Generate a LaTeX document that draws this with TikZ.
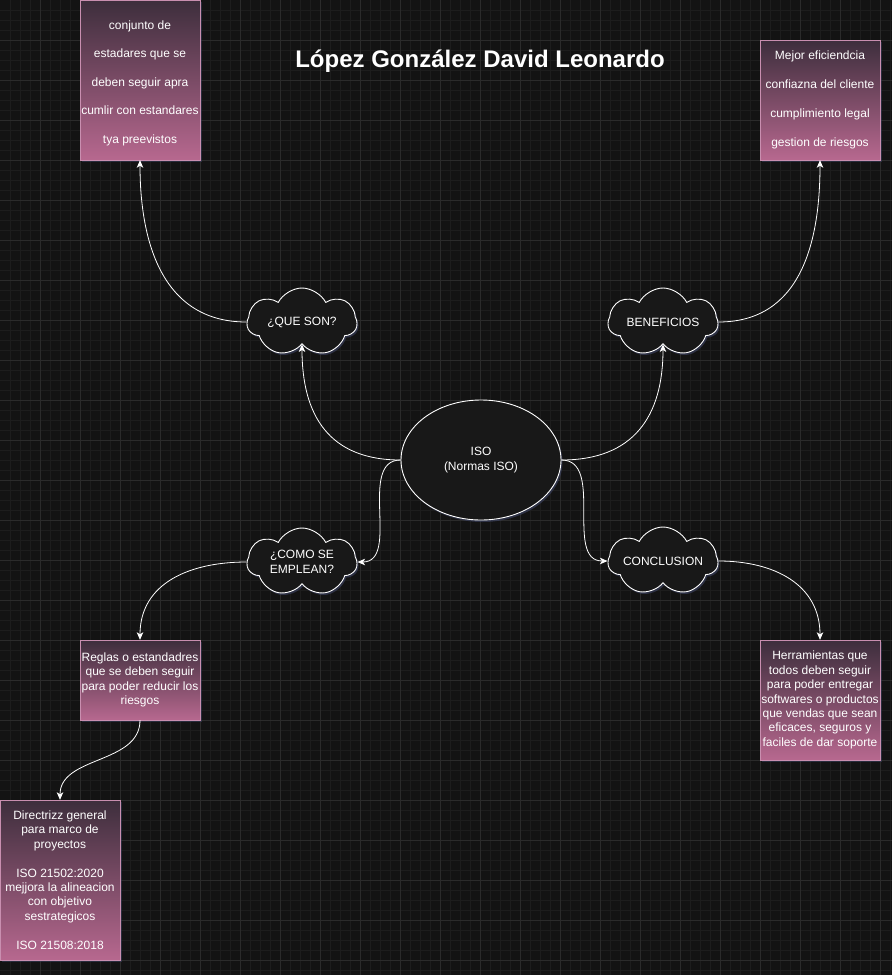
\documentclass[tikz,border=0pt]{standalone}
\usepackage{fontspec}
\setmainfont{Liberation Sans}
\usetikzlibrary{shapes,arrows.meta,shadows}
\definecolor{fondo}{HTML}{131313}
\definecolor{rejilla}{HTML}{1D1D1D}
\definecolor{rejillab}{HTML}{2B2B2B}
\definecolor{rosaarr}{HTML}{3D2E3C}
\definecolor{rosaab}{HTML}{B7688F}
\definecolor{rosaborde}{HTML}{C98FB0}
\definecolor{nube}{HTML}{181818}
\definecolor{sombra}{HTML}{3E4466}
\def\Titulo{López González David Leonardo}

\begin{document}
\begin{tikzpicture}[x=1pt,y=1pt,% estilos para todos, se cambian caso por caso
			every node/.style={
				align=center,  		% para que "\\" haga salto de linea
				text=white,
				font=\fontsize{12}{14.4}\selectfont
			},
			caja/.style={rectangle,draw=rosaborde,top color=rosaarr,bottom color=rosaab,
				minimum width=120pt,inner sep=0pt,
				drop shadow={shadow xshift=1.5pt,shadow yshift=-1.5pt,opacity=0.5,fill=sombra}},
			nubes/.style={cloud,cloud puffs=7,cloud puff arc=125,cloud ignores aspect,
				draw=white,line width=0.9pt,fill=nube,
				minimum width=110pt,minimum height=68pt,inner xsep=-8pt,inner ysep=0pt,
				drop shadow={shadow xshift=1.5pt,shadow yshift=-2pt,opacity=0.6,fill=sombra}},
			every edge/.style={draw=white,line width=0.8pt},
			>={Stealth[length=7.5pt,width=6.5pt,inset=2pt]}
		]
		% fondo con rejilla
		\useasboundingbox (0,0) rectangle (892,-975);
		\fill[fondo] (0,0) rectangle (892,-975);
		\foreach \x in {10,20,...,890} \draw[rejilla,line width=0.6pt] (\x,0) -- (\x,-975);
		\foreach \y in {10,20,...,970} \draw[rejilla,line width=0.6pt] (0,-\y) -- (892,-\y);
		\foreach \x in {40,80,...,880} \draw[rejillab,line width=0.7pt] (\x,0) -- (\x,-975);
		\foreach \y in {40,80,...,960} \draw[rejillab,line width=0.7pt] (0,-\y) -- (892,-\y);

		\node[font=\bfseries\fontsize{24}{28}\selectfont](T) at (480,-61){\Titulo};
		\node[ellipse,draw=white,line width=0.9pt,fill=nube,minimum width=160pt,minimum height=120pt,
			drop shadow={shadow xshift=1.5pt,shadow yshift=-2pt,opacity=0.6,fill=sombra}](ISO) at (481,-460){ISO\\(Normas ISO)};
		\node[nubes](QS) at (302,-322){¿QUE SON?};
		\node[nubes](BEN) at (663,-322){BENEFICIOS};
		\node[nubes](CSE) at (302,-562){¿COMO SE\\EMPLEAN?};
		\node[nubes](CON) at (663,-561){CONCLUSION};
		\node[caja,minimum height=160pt,font=\fontsize{12}{28.5}\selectfont](B1) at (140,-80)
			{\rule{0pt}{15pt}conjunto de\\estadares que se\\deben seguir apra\\cumlir con estandares\\tya preevistos};
		\node[caja,minimum height=120pt,font=\fontsize{12}{28.8}\selectfont](B2) at (820,-100)
			{Mejor eficiendcia\\confiazna del cliente\\cumplimiento legal\\gestion de riesgos};
		\node[caja,minimum height=80pt](B3) at (140,-680)
			{Reglas o estandadres\\que se deben seguir\\para poder reducir los\\riesgos};
		\node[caja,minimum height=160pt](B4) at (60,-880)
			{Directrizz general\\para marco de\\proyectos\\[14.4pt]ISO 21502:2020\\mejjora la alineacion\\con objetivo\\sestrategicos\\[14.4pt]ISO 21508:2018};
		\node[caja,minimum height=120pt](B5) at (820,-700)
			{Herramientas que\\todos deben seguir\\para poder entregar\\softwares o productos\\que vendas que sean\\eficaces, seguros y\\faciles de dar soporte};
		\path[->]
		(ISO.west) edge [out=180,in=-90,looseness=1.2] (QS.south)
		(ISO.east) edge [out=0,in=-90,looseness=1.2] (BEN.south)
		(ISO.west) edge [out=180,in=0] (CSE.east)
		(ISO.east) edge [out=0,in=180] (CON.west)
		(QS.west) edge [out=180,in=-90,looseness=1.1] (B1.south)
		(BEN.east) edge [out=0,in=-90,looseness=1.1] (B2.south)
		(CSE.west) edge [out=180,in=90,looseness=1.1] (B3.north)
		(CON.east) edge [out=0,in=90,looseness=1.1] (B5.north)
		(B3.south) edge [out=-90,in=90] (B4.north)
		;
	\end{tikzpicture}
\end{document}
